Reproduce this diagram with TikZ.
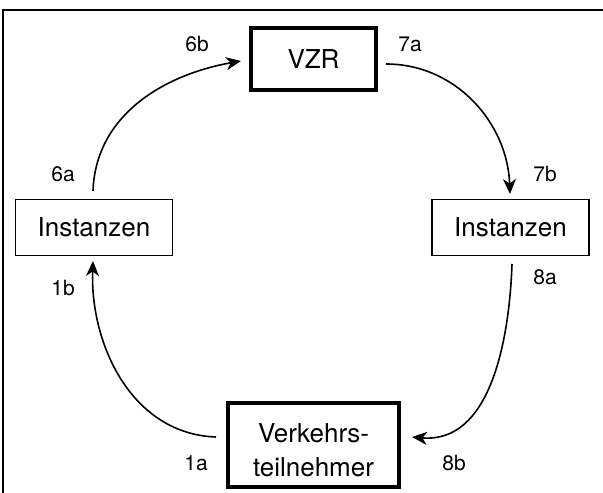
\documentclass[tikz,border=0pt]{standalone}
\usepackage{fontspec}
\setmainfont{TeX Gyre Heros}
\usetikzlibrary{arrows.meta}
\begin{document}
\begin{tikzpicture}[x=1pt,y=-1pt,
  box/.style={draw,line width=1.3pt,minimum height=56pt,inner sep=0pt,font=\fontsize{26}{30}\selectfont},
  thickbox/.style={draw,line width=3.2pt,inner sep=0pt,font=\fontsize{26}{34}\selectfont,align=center},
  lbl/.style={font=\fontsize{21}{24}\selectfont,inner sep=0pt},
  arr/.style={line width=1.6pt,-{Stealth[length=15pt,width=13pt,inset=4.5pt]}}]
\useasboundingbox (0,0) rectangle (603,493);
\draw[line width=1.2pt] (3,493) -- (3,10) -- (603,10);
\node[thickbox,minimum width=125pt,minimum height=62pt] (vzr) at (313.5,59) {VZR};
\node[box,minimum width=157pt] (il) at (94,227.5) {Instanzen};
\node[box,minimum width=157pt] (ir) at (510.5,227.5) {Instanzen};
\node[thickbox,minimum width=171pt,minimum height=84pt,
  label={[font=\fontsize{26}{34}\selectfont,align=center,inner sep=0pt,yshift=-5pt]center:{Verkehrs-\\teilnehmer}}] (vt) at (313.5,445) {};
\coordinate (s6) at (93,191);
\coordinate (e6) at (241,61);
\coordinate (s7) at (386,64);
\coordinate (e7) at (510,194);
\coordinate (s1) at (216,437);
\coordinate (e1) at (93,261);
\coordinate (s8) at (512,264);
\coordinate (e8) at (412,437);
\draw[arr] (s6) to[out=88,in=190] (e6);
\draw[arr] (s7) to[out=0,in=92] (e7);
\draw[arr] (s1) to[out=178,in=-92] (e1);
\draw[arr] (s8) to[out=-92,in=-5] (e8);
\node[lbl] (l6b) at (197,44) {6b};
\node[lbl] (l7a) at (410,44) {7a};
\node[lbl] (l6a) at (63,174) {6a};
\node[lbl] (l7b) at (545,174) {7b};
\node[lbl] (l1b) at (63,288) {1b};
\node[lbl] (l8a) at (545,277) {8a};
\node[lbl] (l1a) at (196,463) {1a};
\node[lbl] (l8b) at (454,463) {8b};
\end{tikzpicture}
\end{document}
